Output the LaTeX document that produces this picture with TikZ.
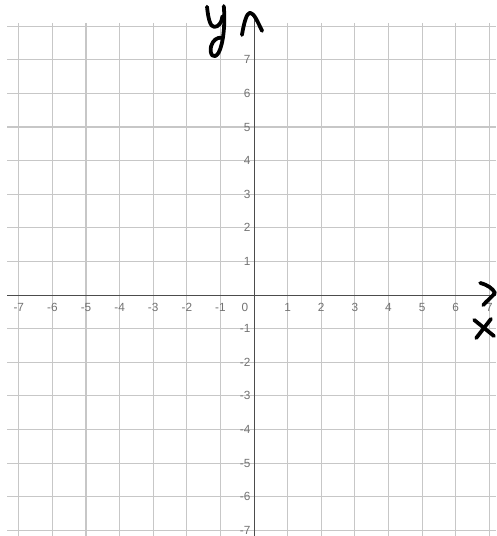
\documentclass[tikz,border=0pt]{standalone}
\usepackage{fontspec}
\setmainfont{Liberation Sans}
\tikzset{
  gridline/.style={draw=black!22, line width=0.9pt},
  axisline/.style={draw=black!70, line width=0.8pt},
  ticklabel/.style={text=black!55, font=\fontsize{10}{11}\selectfont, inner sep=0pt},
  pen/.style={draw=black, line width=3.2pt, line cap=round, line join=round}
}
\begin{document}
\begin{tikzpicture}
\useasboundingbox (-7.56,-7.17) rectangle (7.2,8.78);
\fill[white] (-7.56,-7.17) rectangle (7.2,8.78);
\foreach \y in {-7,-6,...,8}
\draw[gridline] (-7.35,\y) -- (7.2,\y);
\foreach \x in {-7,-6,...,7}
\draw[gridline] (\x,8.1) -- (\x,-7.17);
\coordinate (xl) at (-7.35,0);
\coordinate (xr) at (7.2,0);
\coordinate (yt) at (0,8.3);
\coordinate (yb) at (0,-7.17);
\draw[axisline] (xl) -- (xr);
\draw[axisline] (yt) -- (yb);
\foreach \x in {-7,-6,-5,-4,-3,-2,-1,1,2,3,4,5,6,7}
\node[ticklabel] (lx\x) at (\x,-0.38){\x};
\node[ticklabel] (lx0) at (-0.27,-0.38){0};
\foreach \y in {-7,-6,-5,-4,-3,-2,-1,1,2,3,4,5,6,7}
\node[ticklabel,anchor=east] (ly\y) at (-0.1,\y){\y};
% hand-written letters
\draw[pen] (-1.4,8.58) .. controls (-1.36,8.2) and (-1.3,7.98) .. (-1.18,7.98) .. controls (-1.06,7.98) and (-0.96,8.1) .. (-0.94,8.3);
\draw[pen] (-0.9,8.6) .. controls (-0.86,8.1) and (-0.9,7.5) .. (-1.06,7.2) .. controls (-1.2,7.0) and (-1.33,7.15) .. (-1.28,7.4) .. controls (-1.22,7.6) and (-1.1,7.66) .. (-0.98,7.66);
\draw[pen] (-0.36,7.74) .. controls (-0.3,8.1) and (-0.22,8.4) .. (-0.12,8.4) .. controls (0.0,8.4) and (0.12,8.1) .. (0.24,7.86);
\draw[pen] (6.73,0.36) .. controls (6.95,0.3) and (7.1,0.2) .. (7.17,0.06) .. controls (7.05,-0.08) and (6.9,-0.2) .. (6.82,-0.3);
\draw[pen] (6.55,-0.74) -- (7.14,-1.22);
\draw[pen] (7.05,-0.71) -- (6.61,-1.28);
\end{tikzpicture}
\end{document}
